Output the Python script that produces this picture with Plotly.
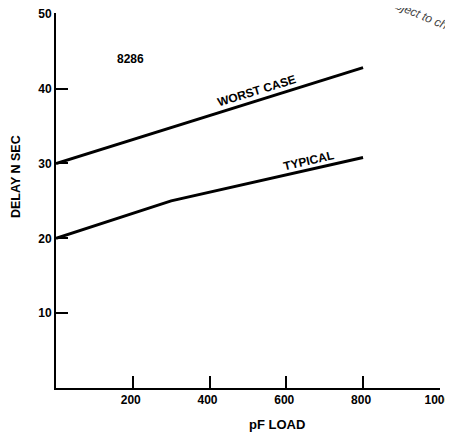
import plotly.graph_objects as go

# pF load vs delay (8286)
load_worst = [0, 800]
delay_worst = [30, 42.8]
load_typ = [0, 300, 800]
delay_typ = [20, 25, 30.8]

x_ticks = [200, 400, 600, 800, 1000]
y_ticks = [10, 20, 30, 40, 50]

fnt = "Liberation Sans, Arial, sans-serif"
bold = lambda s: "<b>" + s + "</b>"

fig = go.Figure()
fig.add_trace(go.Scatter(x=load_worst, y=delay_worst, mode="lines",
                         line=dict(color="black", width=3), name="WORST CASE"))
fig.add_trace(go.Scatter(x=load_typ, y=delay_typ, mode="lines",
                         line=dict(color="black", width=3), name="TYPICAL"))

fig.update_xaxes(range=[0, 1000.5], tickvals=x_ticks, ticktext=[bold(str(v)) for v in x_ticks],
                 ticks="inside", ticklen=12, tickwidth=1.5, tickcolor="black",
                 showline=True, linecolor="black", linewidth=2, showgrid=False,
                 zeroline=False, automargin=False, ticklabeloverflow="allow",
                 ticklabelshift=-2,
                 tickfont=dict(family=fnt, size=12, color="black"))
fig.update_yaxes(range=[0, 50.1], tickvals=y_ticks, ticktext=[bold(str(v)) for v in y_ticks],
                 ticks="inside", ticklen=12, tickwidth=2, tickcolor="black",
                 showline=True, linecolor="black", linewidth=2, showgrid=False,
                 zeroline=False, automargin=False, ticklabeloverflow="allow",
                 tickfont=dict(family=fnt, size=12, color="black"))

# labels, given as window pixel centres and converted below
labels = [
    (130, 59, bold("8286"), 0, 12, "black"),
    (256, 91, bold("WORST CASE"), -17, 12, "black"),
    (308, 161, bold("TYPICAL"), -13, 12, "black"),
    (16, 177, bold("DELAY N SEC"), -90, 12.5, "black"),
    (277, 424, bold("pF LOAD"), 0, 13, "black"),
    (428, 18, "<i>subject to change</i>", 23, 12, "#444444"),
]

# page body has an 8px margin, so shrink the figure and shift margins to match
OFF = 8
W, H = 453, 433
L, R, T, B = 56, 13, 13, 45
pw, ph = W - L - R, H - T - B
for px_, py_, txt, ang, sz, col in labels:
    fig.add_annotation(x=(px_ - L) / pw, y=(H - B - py_) / ph, xref="paper", yref="paper",
                       text=txt, textangle=ang, showarrow=False,
                       xanchor="center", yanchor="middle",
                       font=dict(family=fnt, size=sz, color=col))

fig.update_layout(width=W - OFF, height=H - OFF,
                  margin=dict(l=L - OFF, r=R, t=T - OFF, b=B),
                  plot_bgcolor="white", paper_bgcolor="white", showlegend=False)

fig.write_html("out.html")
